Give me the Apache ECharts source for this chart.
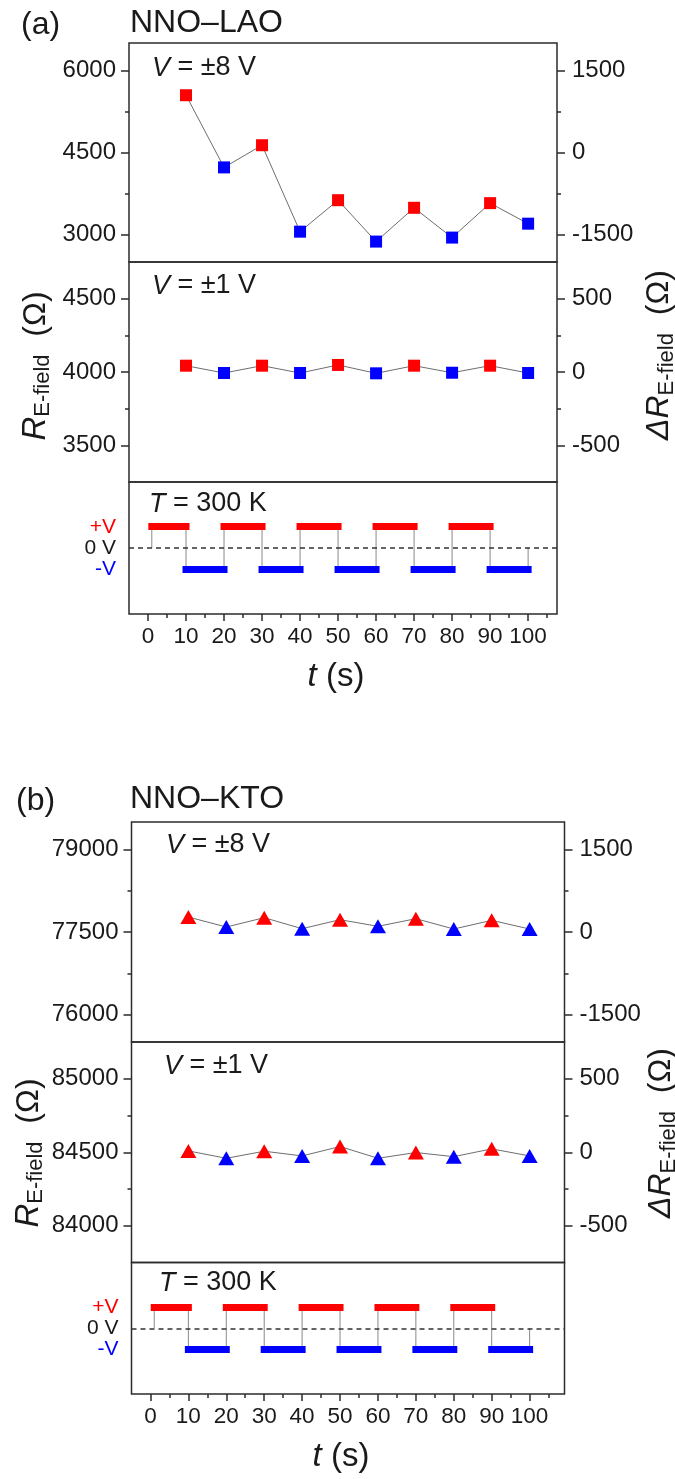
<!DOCTYPE html>
<html>
<head>
<meta charset="utf-8">
<script src="https://cdn.jsdelivr.net/npm/echarts@6/dist/echarts.min.js"></script>
<style>
  html, body { margin: 0; padding: 0; background: #fff; }
  #chart { width: 675px; height: 1479px; }
</style>
</head>
<body>
<div id="chart"></div>
<script>
// ---- time base (s) ----
const pointTimes  = [10, 20, 30, 40, 50, 60, 70, 80, 90, 100];
const switchTimes = [1, 10, 20, 30, 40, 50, 60, 70, 80, 90, 100];
const pulseLevels = [1, -1, 1, -1, 1, -1, 1, -1, 1, -1];   // +V / -V in each interval
const xMajorTicks = [0, 10, 20, 30, 40, 50, 60, 70, 80, 90, 100];
const xMinorTicks = [5, 15, 25, 35, 45, 55, 65, 75, 85, 95, 105];

// ---- NNO–LAO resistance (Ω) ----
const lao8V = [5546, 4228, 4633, 3054, 3629, 2873, 3490, 2946, 3575, 3200];
const lao1V = [4043, 3993, 4043, 3993, 4048, 3991, 4043, 3995, 4043, 3993];
const lao8VTicks = [3000, 4500, 6000];
const lao8VMinor = [3750, 5250];
const lao1VTicks = [3500, 4000, 4500];
const lao1VMinor = [3750, 4250];

// ---- NNO–KTO resistance (Ω) ----
const kto8V = [77772, 77591, 77760, 77560, 77724, 77603, 77742, 77554, 77712, 77554];
const kto1V = [84509, 84459, 84507, 84475, 84539, 84459, 84498, 84470, 84523, 84475];
const kto8VTicks = [76000, 77500, 79000];
const kto8VMinor = [76750, 78250];
const kto1VTicks = [84000, 84500, 85000];
const kto1VMinor = [84250, 84750];

// ---- ΔR scale (Ω) ----
const dR8VTicks = [-1500, 0, 1500];
const dR8VMinor = [-750, 750];
const dR1VTicks = [-500, 0, 500];
const dR1VMinor = [-250, 250];

// ---- pulse axis labels ----
const pulseTickValues = [-1, 0, 1];

const FONT = "'Liberation Sans', Arial, sans-serif";
const INK = '#1a1a1a';
const FRAME = '#2b2b2b';
const RED = '#ff0000';
const BLUE = '#0000ff';

const option = {
  animation: false,
  backgroundColor: '#fff',
  grid: [], xAxis: [], yAxis: [], series: [], graphic: []
};

function addGrid(left, right, top, bottom) {
  option.grid.push({
    left: left, width: right - left, top: top, height: bottom - top,
    show: true, borderColor: FRAME, borderWidth: 1.5, backgroundColor: 'transparent'
  });
  return option.grid.length - 1;
}

function addX(gi, range, bottomRow) {
  const base = {
    gridIndex: gi, type: 'value', min: range[0], max: range[1], position: 'bottom',
    axisLine: { show: false, onZero: false }, splitLine: { show: false }
  };
  option.xAxis.push(Object.assign({}, base, {
    axisTick: { show: bottomRow, customValues: xMajorTicks, length: 7, lineStyle: { color: FRAME, width: 1.5 } },
    axisLabel: {
      show: bottomRow, customValues: xMajorTicks, margin: 11,
      fontSize: 22.5, fontFamily: FONT, color: INK, formatter: v => String(v)
    },
    name: bottomRow ? '{i|t} (s)' : '',
    nameLocation: 'middle', nameGap: 46,
    nameTextStyle: {
      fontSize: 33, fontFamily: FONT, color: INK, padding: [0, 14, 0, 0],
      rich: { i: { fontSize: 33, fontStyle: 'italic', fontFamily: FONT, color: INK } }
    }
  }));
  const xi = option.xAxis.length - 1;
  if (bottomRow) {
    option.xAxis.push(Object.assign({}, base, {
      axisTick: { show: true, customValues: xMinorTicks, length: 4, lineStyle: { color: FRAME, width: 1.5 } },
      axisLabel: { show: false }
    }));
  }
  return xi;
}

function addY(gi, pos, range, major, minor, margin) {
  const base = {
    gridIndex: gi, type: 'value', position: pos, min: range[0], max: range[1],
    axisLine: { show: false, onZero: false }, splitLine: { show: false }
  };
  option.yAxis.push(Object.assign({}, base, {
    axisTick: { show: true, customValues: major, length: 8, lineStyle: { color: FRAME, width: 1.5 } },
    axisLabel: {
      show: true, customValues: major, margin: margin,
      fontSize: 24, fontFamily: FONT, color: INK, formatter: v => String(v)
    }
  }));
  const yi = option.yAxis.length - 1;
  option.yAxis.push(Object.assign({}, base, {
    axisTick: { show: true, customValues: minor, length: 4, lineStyle: { color: FRAME, width: 1.5 } },
    axisLabel: { show: false }
  }));
  return yi;
}

// one resistance row: grey guide line through the points, red (+V) and blue (-V) markers
function addDataRow(gi, xRange, values, range, major, minor, ref, dMajor, dMinor, symbol, size) {
  const xi = addX(gi, xRange, false);
  const yi = addY(gi, 'left', range, major, minor, 13);
  addY(gi, 'right', [range[0] - ref, range[1] - ref], dMajor, dMinor, 15);
  const pts = pointTimes.map((t, i) => [t, values[i]]);
  option.series.push({
    type: 'line', xAxisIndex: xi, yAxisIndex: yi, data: pts, symbol: 'none',
    lineStyle: { color: '#6e6e6e', width: 1 }, z: 2, silent: true
  });
  [[1, RED], [-1, BLUE]].forEach(([lvl, col]) => {
    option.series.push({
      type: 'scatter', xAxisIndex: xi, yAxisIndex: yi,
      data: pts.filter((p, i) => pulseLevels[i] === lvl),
      symbol: symbol, symbolSize: size,
      itemStyle: { color: col, opacity: 1 }, z: 3, silent: true
    });
  });
}

// bias sequence: thin step trace, thick +V / -V bars and the dashed 0 V line
function addPulseRow(gi, xRange) {
  const xi = addX(gi, xRange, true);
  option.yAxis.push({
    gridIndex: gi, type: 'value', position: 'left', min: -3.1, max: 3.1,
    axisLine: { show: false, onZero: false }, splitLine: { show: false },
    axisTick: { show: false },
    axisLabel: {
      customValues: pulseTickValues, margin: 13, fontSize: 21, fontFamily: FONT, color: INK,
      formatter: v => v > 0 ? '{p|+V}' : (v < 0 ? '{n|-V}' : '{z|0 V}'),
      rich: {
        p: { color: RED, fontSize: 21, fontFamily: FONT },
        n: { color: BLUE, fontSize: 21, fontFamily: FONT },
        z: { color: INK, fontSize: 21, fontFamily: FONT }
      }
    }
  });
  const yi = option.yAxis.length - 1;
  const step = [[switchTimes[0], 0]];
  pulseLevels.forEach((lvl, i) => {
    step.push([switchTimes[i], lvl]);
    step.push([switchTimes[i + 1], lvl]);
  });
  step.push([switchTimes[switchTimes.length - 1], 0]);
  option.series.push({
    type: 'line', xAxisIndex: xi, yAxisIndex: yi, data: step, symbol: 'none',
    lineStyle: { color: '#8a8a8a', width: 1 }, z: 2, silent: true,
    markLine: {
      silent: true, symbol: 'none', label: { show: false },
      lineStyle: { type: [5, 4], color: '#333', width: 1.5 },
      data: [{ yAxis: 0 }]
    }
  });
  [[1, RED], [-1, BLUE]].forEach(([lvl, col]) => {
    const segs = [];
    pulseLevels.forEach((l, i) => {
      if (l === lvl) segs.push({ coords: [[switchTimes[i], l], [switchTimes[i + 1], l]] });
    });
    option.series.push({
      type: 'lines', coordinateSystem: 'cartesian2d', xAxisIndex: xi, yAxisIndex: yi,
      data: segs, lineStyle: { color: col, width: 7, cap: 'square', opacity: 1 }, z: 3, silent: true
    });
  });
}

function txt(x, y, text, size, extra) {
  option.graphic.push({
    type: 'text', x: x, y: y, silent: true,
    style: Object.assign({
      text: text, fontSize: size, fontFamily: FONT, fill: INK,
      textAlign: 'left', textVerticalAlign: 'middle',
      rich: { i: { fontStyle: 'italic', fontSize: size, fontFamily: FONT, fill: INK } }
    }, extra || {})
  });
}

const mctx = document.createElement('canvas').getContext('2d');
function fontStr(p) { return (p.italic ? 'italic ' : '') + p.size + 'px ' + FONT; }
// rotated axis title reading bottom-to-top, centred at (cx, cy)
function rotatedTitle(cx, cy, parts) {
  const widths = parts.map(p => { mctx.font = fontStr(p); return mctx.measureText(p.text).width; });
  const total = widths.reduce((a, b) => a + b, 0);
  let x = -total / 2;
  const children = parts.map((p, i) => {
    const c = {
      type: 'text', x: x, y: p.dy || 0, silent: true,
      style: {
        text: p.text, fontSize: p.size, fontFamily: FONT, fontStyle: p.italic ? 'italic' : 'normal',
        fill: INK, textAlign: 'left', textVerticalAlign: 'middle'
      }
    };
    x += widths[i];
    return c;
  });
  option.graphic.push({ type: 'group', x: cx, y: cy, rotation: Math.PI / 2, silent: true, children: children });
}

const leftTitle = [
  { text: 'R', size: 33, italic: true },
  { text: 'E-field', size: 22, dy: 7 },
  { text: '  (Ω)', size: 32 }
];
const rightTitle = [
  { text: 'ΔR', size: 32, italic: true },
  { text: 'E-field', size: 22, dy: 8 },
  { text: '  (Ω)', size: 32 }
];

// ---------------- (a) NNO–LAO ----------------
{
  const L = 129, R = 557, xr = [-5, 107.6];
  const g0 = addGrid(L, R, 43, 262);
  const g1 = addGrid(L, R, 262, 482);
  const g2 = addGrid(L, R, 482, 614);
  addDataRow(g0, xr, lao8V, [2500, 6500], lao8VTicks, lao8VMinor, 4500, dR8VTicks, dR8VMinor, 'rect', [12, 12]);
  addDataRow(g1, xr, lao1V, [3250, 4750], lao1VTicks, lao1VMinor, 4000, dR1VTicks, dR1VMinor, 'rect', [12, 12]);
  addPulseRow(g2, xr);
  txt(21, 25, '(a)', 32);
  txt(130, 23, 'NNO–LAO', 32);
  txt(152, 68, '{i|V} = ±8 V', 27);
  txt(152, 286, '{i|V} = ±1 V', 27);
  txt(149, 504, '{i|T} = 300 K', 27);
  rotatedTitle(36, 366, leftTitle);
  rotatedTitle(659, 355, rightTitle);
}

// ---------------- (b) NNO–KTO ----------------
{
  const L = 131.5, R = 564.5, xr = [-5, 109.2];
  const g3 = addGrid(L, R, 822, 1042);
  const g4 = addGrid(L, R, 1042, 1262.5);
  const g5 = addGrid(L, R, 1262.5, 1394);
  addDataRow(g3, xr, kto8V, [75500, 79500], kto8VTicks, kto8VMinor, 77500, dR8VTicks, dR8VMinor, 'triangle', [16, 14]);
  addDataRow(g4, xr, kto1V, [83750, 85250], kto1VTicks, kto1VMinor, 84500, dR1VTicks, dR1VMinor, 'triangle', [16, 14]);
  addPulseRow(g5, xr);
  txt(16, 801, '(b)', 32);
  txt(130, 799, 'NNO–KTO', 32);
  txt(166, 845, '{i|V} = ±8 V', 27);
  txt(164, 1066, '{i|V} = ±1 V', 27);
  txt(159, 1283, '{i|T} = 300 K', 27);
  rotatedTitle(29, 1153, leftTitle);
  rotatedTitle(661, 1133, rightTitle);
}

const chart = echarts.init(document.getElementById('chart'), null, { renderer: 'canvas' });
chart.setOption(option);
</script>
</body>
</html>
